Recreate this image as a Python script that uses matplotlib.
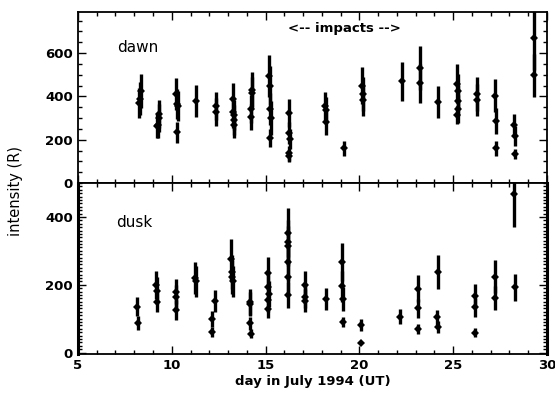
import matplotlib
import matplotlib.pyplot as plt
from matplotlib.ticker import MultipleLocator

matplotlib.use("Agg")

# dawn side: day, intensity, half error bar
dawn_day = [8.25, 8.30, 8.35, 9.22, 9.25, 9.30, 9.33, 10.25, 10.28, 10.32, 10.30,
            11.27, 12.36, 12.38, 13.25, 13.28, 13.30, 13.32, 13.34, 14.22, 14.25,
            14.28, 14.30, 15.20, 15.23, 15.25, 15.27, 15.25, 16.25, 16.27, 16.28,
            16.25, 16.27, 18.18, 18.20, 18.22, 19.18, 20.15, 20.18, 20.22, 22.29,
            23.22, 23.25, 24.20, 25.22, 25.25, 25.28, 25.25, 25.22, 26.25, 26.25,
            27.25, 27.28, 27.30, 28.25, 28.28, 28.30, 29.30, 29.30]
dawn_val = [370, 390, 425, 262, 270, 300, 320, 411, 365, 357, 234,
            378, 357, 329, 388, 326, 315, 292, 269, 305, 341,
            415, 431, 494, 449, 341, 300, 208, 323, 231, 203,
            138, 123, 354, 338, 284, 161, 449, 411, 384, 469,
            531, 461, 374, 458, 423, 381, 341, 315, 411, 384,
            404, 288, 161, 266, 218, 134, 672, 497]
dawn_err = [70, 75, 80, 55, 60, 65, 65, 75, 70, 70, 50,
            75, 65, 65, 75, 70, 70, 70, 60, 60, 65,
            75, 80, 95, 90, 75, 80, 40, 65, 50, 45,
            35, 25, 65, 60, 60, 35, 85, 80, 75, 90,
            100, 90, 72, 90, 80, 70, 65, 40, 80, 75,
            77, 60, 35, 55, 45, 25, 150, 100]

# dusk side
dusk_day = [8.16, 8.18, 9.17, 9.20, 9.22, 10.20, 10.22, 10.25, 11.25, 11.28,
            12.15, 12.17, 12.30, 13.18, 13.20, 13.22, 13.24, 14.15, 14.18, 14.15,
            14.20, 15.12, 15.15, 15.18, 15.15, 15.13, 16.18, 16.20, 16.17, 16.20,
            16.22, 16.20, 17.08, 17.12, 17.10, 18.20, 19.08, 19.10, 19.12, 19.12,
            20.08, 20.08, 22.16, 23.13, 23.15, 23.12, 24.17, 24.15, 24.17, 26.15,
            26.18, 26.15, 27.22, 27.25, 28.25, 28.28]
dusk_val = [135, 87, 200, 183, 150, 180, 163, 126, 220, 210,
            99, 61, 153, 275, 237, 222, 210, 150, 143, 86,
            56, 234, 193, 173, 156, 129, 354, 326, 314, 267,
            224, 170, 200, 165, 153, 158, 267, 195, 158, 91,
            82, 29, 106, 188, 130, 69, 237, 104, 76, 166,
            133, 59, 224, 161, 467, 193]
dusk_err = [28, 20, 42, 40, 30, 37, 35, 30, 47, 45,
            25, 15, 32, 60, 50, 50, 45, 38, 35, 20,
            12, 48, 40, 38, 35, 28, 72, 65, 60, 55,
            50, 38, 42, 35, 33, 32, 55, 45, 35, 15,
            18, 0, 23, 40, 28, 15, 50, 22, 17, 35,
            28, 12, 48, 35, 97, 40]

INK = "black"
plt.rcParams["font.family"] = "DejaVu Sans"

fig = plt.figure(figsize=(5.55, 3.98), dpi=100)
ax_top = fig.add_axes([0.1405, 0.540, 0.845, 0.430])
ax_bot = fig.add_axes([0.1405, 0.110, 0.845, 0.430], sharex=ax_top)


def draw_panel(ax, days, vals, errs):
    ax.errorbar(days, vals, yerr=errs, fmt="D", color=INK, ms=3.8,
                elinewidth=2.4, capsize=0, mew=0)


def style_axis(ax, minor_y):
    ax.tick_params(which="both", direction="in", top=True, right=True,
                   labelsize=9.5, width=1.0, colors=INK)
    ax.tick_params(which="major", length=6)
    ax.tick_params(which="minor", length=3)
    ax.xaxis.set_major_locator(MultipleLocator(5))
    ax.xaxis.set_minor_locator(MultipleLocator(1))
    ax.yaxis.set_minor_locator(MultipleLocator(minor_y))
    for spine in ax.spines.values():
        spine.set_linewidth(1.3)
    for lab in ax.get_xticklabels() + ax.get_yticklabels():
        lab.set_fontweight("bold")


draw_panel(ax_top, dawn_day, dawn_val, dawn_err)
draw_panel(ax_bot, dusk_day, dusk_val, dusk_err)

ax_top.set_xlim(5, 30)
ax_top.set_ylim(0, 790)
ax_top.set_yticks([0, 200, 400, 600])
ax_bot.set_ylim(-5, 500)
ax_bot.set_yticks([0, 200, 400])

style_axis(ax_top, 50)
style_axis(ax_bot, 10)
ax_top.tick_params(labelbottom=False)
ax_bot.spines["left"].set_linewidth(2.2)
ax_bot.spines["right"].set_linewidth(2.2)

ax_top.text(0.083, 0.79, "dawn", transform=ax_top.transAxes, fontsize=11,
            va="center")
ax_bot.text(0.081, 0.77, "dusk", transform=ax_bot.transAxes, fontsize=11,
            va="center")
ax_top.text(0.569, 0.905, "<-- impacts -->", transform=ax_top.transAxes,
            fontsize=9.5, fontweight="bold", ha="center", va="center")

ax_bot.set_xlabel("day in July 1994 (UT)", fontsize=9.5, fontweight="bold", labelpad=2)
fig.text(0.028, 0.52, "intensity (R)", rotation=90, ha="center", va="center",
         fontsize=10.5)

fig.savefig("out.png", dpi=100)
